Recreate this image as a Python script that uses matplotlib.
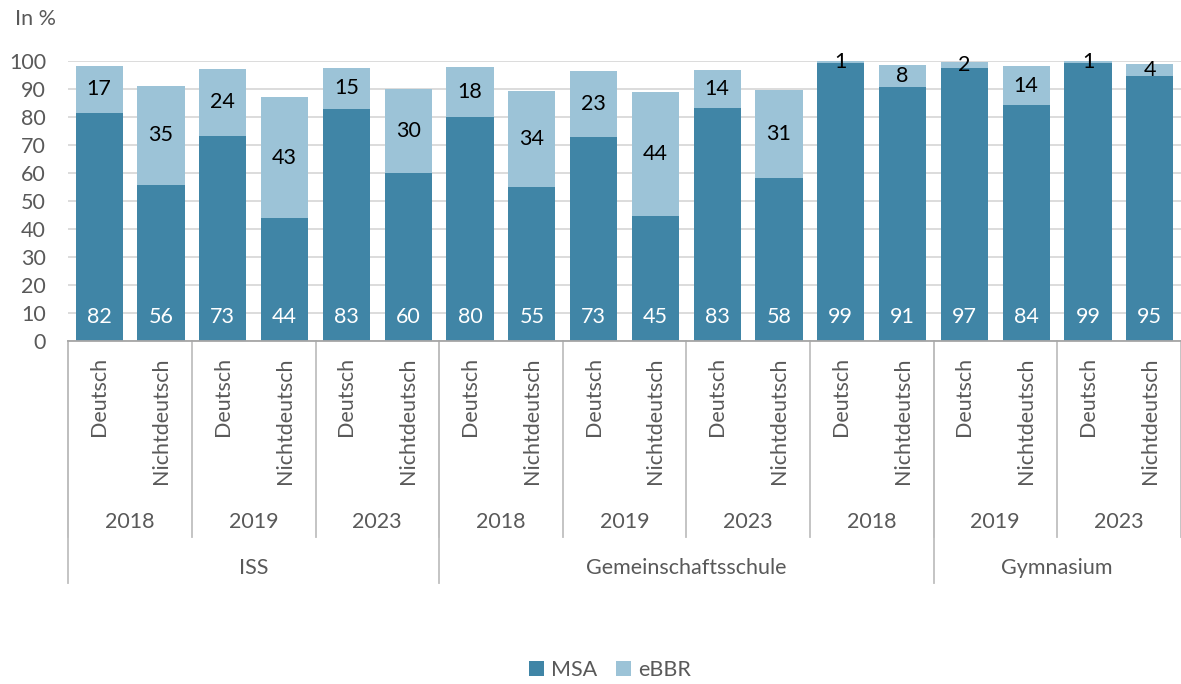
import matplotlib
matplotlib.use("Agg")
import matplotlib.pyplot as plt
from matplotlib.patches import Patch

plt.rcParams['font.family'] = ['Lato', 'DejaVu Sans']

# ---- data ----
languages = ["Deutsch", "Nichtdeutsch"] * 9
years = ["2018", "2019", "2023", "2018", "2019", "2023", "2018", "2019", "2023"]
schools = ["ISS", "Gemeinschaftsschule", "Gymnasium"]
school_span = [6, 8, 4]  # number of bars per school label as in the original
msa = [81.5, 55.8, 73.3, 43.8, 82.9, 59.9, 80.0, 55.0, 72.9, 44.6, 83.2, 58.2,
       99.4, 90.8, 97.4, 84.3, 99.4, 94.8]
ebbr = [16.7, 35.3, 23.8, 43.3, 14.6, 30.1, 18.0, 34.4, 23.4, 44.3, 13.6, 31.3,
        0.6, 7.8, 2.4, 13.9, 0.6, 4.1]

C_MSA = "#4085A6"
C_EBBR = "#9CC3D7"
GRID = "#D9D9D9"
TXT = "#595959"
LINE = "#BFBFBF"
FS = 15.5

W, H = 1181, 684
fig = plt.figure(figsize=(W / 100, H / 100), dpi=100)
x0, x1 = 68.3, 1180.7
y0, y1 = 341, 61
ax = fig.add_axes([x0 / W, 1 - y0 / H, (x1 - x0) / W, (y0 - y1) / H])

n = len(msa)
xs = list(range(n))
bw = 0.765
ax.bar(xs, msa, width=bw, color=C_MSA, zorder=3)
ax.bar(xs, ebbr, width=bw, bottom=msa, color=C_EBBR, zorder=3)

ax.set_xlim(-0.5, n - 0.5)
ax.set_ylim(0, 100)
ax.set_yticks(range(0, 101, 10))
ax.yaxis.grid(True, color=GRID, linewidth=1.3, zorder=0)
ax.set_axisbelow(True)
ax.tick_params(axis='y', length=0, pad=16, labelsize=FS, labelcolor=TXT)
ax.set_xticks([])
for s in ['top', 'right', 'left']:
    ax.spines[s].set_visible(False)
ax.spines['bottom'].set_color("#A6A6A6")
ax.spines['bottom'].set_linewidth(1.3)
ax.spines['bottom'].set_zorder(4)

# data labels
for x, m, e in zip(xs, msa, ebbr):
    ax.annotate(f"{round(m)}", xy=(x, 0), xytext=(0, 17.3), textcoords='offset points',
                ha='center', va='center', color='white', fontsize=FS, zorder=5)
    ax.text(x, m + e / 2, f"{round(e)}", ha='center', va='center', color='black',
            fontsize=FS, zorder=5)

# multi-level category axis
tr = ax.get_xaxis_transform()
ph = y0 - y1


def ay(px):
    return -(px - y0) / ph


for x, lab in zip(xs, languages):
    ax.text(x, ay(357), lab, rotation=90, ha='center', va='top', color=TXT,
            fontsize=FS, transform=tr, clip_on=False)

for i, yr in enumerate(years):
    ax.text(2 * i + 0.5, ay(522), yr, ha='center', va='center', color=TXT,
            fontsize=FS, transform=tr, clip_on=False)

for k in range(len(years) + 1):
    xb = 2 * k - 0.5
    ax.plot([xb, xb], [0, ay(537)], color=LINE, linewidth=1.3, transform=tr,
            clip_on=False, zorder=4)

start = 0
bounds = [-0.5]
for sname, span in zip(schools, school_span):
    ax.text(start + span / 2 - 0.5, ay(568), sname, ha='center', va='center',
            color=TXT, fontsize=FS, transform=tr, clip_on=False)
    start += span
    bounds.append(start - 0.5)
for xb in bounds[:-1]:
    ax.plot([xb, xb], [0, ay(583)], color=LINE, linewidth=1.3, transform=tr,
            clip_on=False, zorder=4)

# legend
handles = [Patch(facecolor=C_MSA, label="MSA"), Patch(facecolor=C_EBBR, label="eBBR")]
fig.legend(handles=handles, loc='center', bbox_to_anchor=(610 / W, 1 - 670 / H),
           ncol=2, frameon=False, fontsize=FS, labelcolor=TXT, handlelength=0.7,
           handleheight=0.7, handletextpad=0.3, columnspacing=0.9)

fig.text(15 / W, 1 - 19 / H, "In %", ha='left', va='center', color=TXT, fontsize=FS)

fig.savefig("out.png", dpi=100)
